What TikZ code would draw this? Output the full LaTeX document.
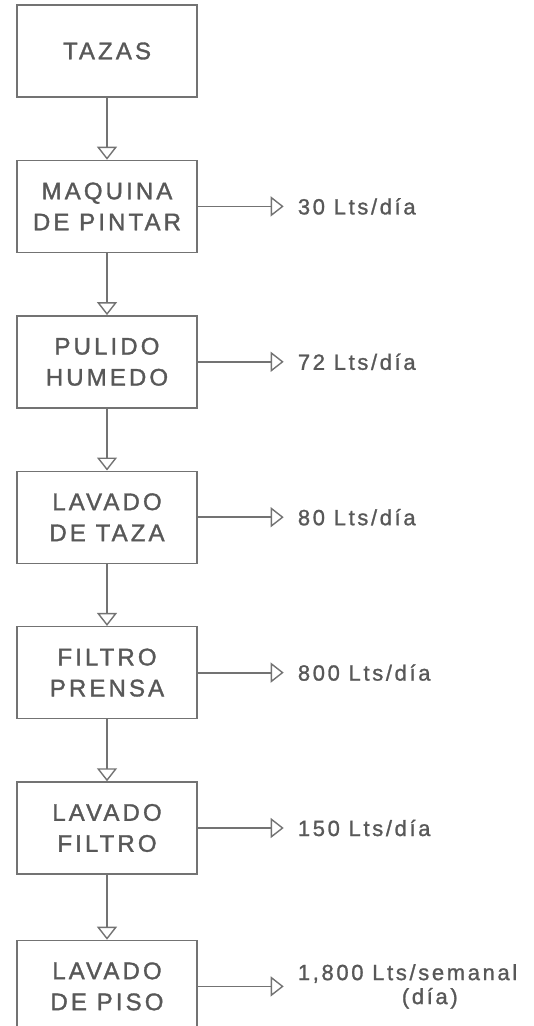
\documentclass[tikz,border=0pt]{standalone}
\usepackage{fontspec}
\setmainfont{Liberation Sans}
\newfontfamily\boxfont[LetterSpace=13,FakeBold=1.4]{Liberation Sans}
\newfontfamily\lblfont[LetterSpace=12,FakeBold=1.2]{Liberation Sans}
\usetikzlibrary{arrows.meta,positioning}
\definecolor{ink}{RGB}{88,88,88}
\definecolor{wire}{RGB}{115,115,115}

\begin{document}
\begin{tikzpicture}[x=1pt,y=1pt,
  proc/.style={draw=wire,line width=1.4pt,minimum width=180pt,
    minimum height=92pt,align=center,text=ink,
    font=\boxfont\fontsize{24}{31}\selectfont},
  flow/.style={draw=wire,line width=2.2pt,
    -{Triangle[open,width=20pt,length=13pt,line width=1.4pt]}},
  qty/.style={text=ink,inner xsep=0pt,align=left,
    font=\lblfont\fontsize{22}{24}\selectfont}]
\useasboundingbox (0,0) rectangle (534,-1026);
\node[proc] (t) at (107,-51) {TAZAS};
\node[proc,below=62pt of t] (mp) {MAQUINA\\DE PINTAR};
\node[proc,below=62pt of mp] (ph) {PULIDO\\HUMEDO};
\node[proc,below=62pt of ph] (lt) {LAVADO\\DE TAZA};
\node[proc,below=62pt of lt] (fp) {FILTRO\\PRENSA};
\node[proc,below=62pt of fp] (lf) {LAVADO\\FILTRO};
\node[proc,below=65pt of lf] (lp) {LAVADO\\DE PISO};
% consumo de agua
\node[qty,right=100pt of mp] (q1) {30 Lts/día};
\node[qty,right=100pt of ph] (q2) {72 Lts/día};
\node[qty,right=100pt of lt] (q3) {80 Lts/día};
\node[qty,right=100pt of fp] (q4) {800 Lts/día};
\node[qty,right=100pt of lf] (q5) {150 Lts/día};
\node[qty,right=100pt of lp] (q6) {1,800 Lts/semanal\\\hspace*{104pt}(día)};
\draw[flow] (t) -- (mp);
\draw[flow] (mp) -- (ph);
\draw[flow] (ph) -- (lt);
\draw[flow] (lt) -- (fp);
\draw[flow] (fp) -- (lf);
\draw[flow] (lf) -- (lp);
\foreach \a/\b in {mp/q1,ph/q2,lt/q3,fp/q4,lf/q5,lp/q6}
  \draw[flow,line width=1.8pt,shorten >=14pt] (\a.east) -- (\a.east-|\b.west);
\end{tikzpicture}
\end{document}
